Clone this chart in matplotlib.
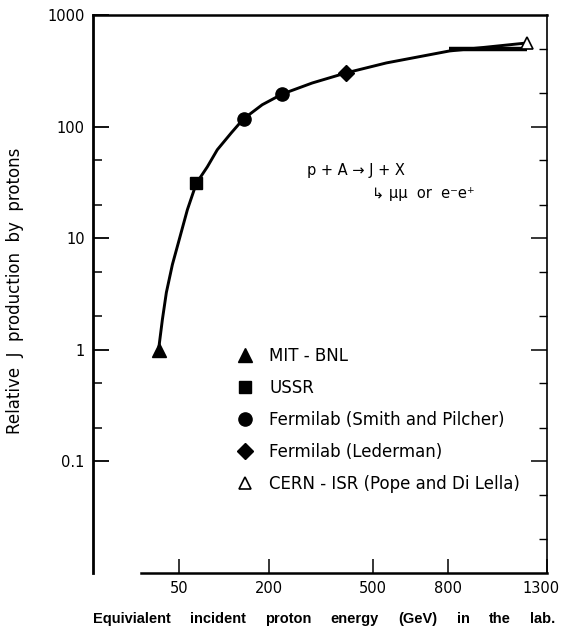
import numpy as np
import matplotlib
matplotlib.use("Agg")
import matplotlib.pyplot as plt
import matplotlib.transforms as mtransforms
from matplotlib.ticker import FixedLocator, FixedFormatter, NullFormatter

# ---------------- data ----------------
curve_energy = [30, 33.4, 37.1, 43.1, 49.5, 60.0, 71.4, 86.8, 102, 125.6, 147.7, 186,
                231.7, 309, 410, 548, 805, 1190]
curve_value = [1.0, 1.87, 3.26, 5.8, 9.1, 18.0, 31, 43.6, 62, 88, 117, 157,
               196, 246, 303, 372, 476, 562]

band_energy = [805, 1190]
band_value = [497, 497]

mit_energy, mit_value = [30], [1.0]
ussr_energy, ussr_value = [71], [31]
fnal_sp_energy, fnal_sp_value = [148, 232], [117, 196]
fnal_led_energy, fnal_led_value = [410], [303]
isr_energy, isr_value = [1190], [562]

series_labels = ["MIT - BNL", "USSR", "Fermilab (Smith and Pilcher)",
                 "Fermilab (Lederman)", "CERN - ISR (Pope and Di Lella)"]

x_ticks = [50, 200, 500, 800, 1300]
x_ticklabels = ["50", "200", "500", "800", "1300"]
y_ticks = [0.1, 1, 10, 100, 1000]
y_ticklabels = ["0.1", "1", "10", "100", "1000"]
y_minor_left = [0.2, 0.5, 2, 5, 20, 50]
y_major_right = [0.1, 1, 10, 100]
y_minor_right = [0.02, 0.05, 0.2, 0.5, 2, 5, 20, 50, 200, 500]

xlabel_words = ["Equivialent", "incident", "proton", "energy", "(GeV)", "in", "the", "lab."]
ylabel = "Relative  J  production  by  protons"
reaction_line1 = "p + A \u2192 J + X"
reaction_line2 = "\u21b3 \u03bc\u03bc  or  e\u207be\u207a"

# ---------------- figure ----------------
W, H = 564, 629
fig = plt.figure(figsize=(W / 100, H / 100), dpi=100)
ax_l, ax_r, ax_t, ax_b = 93, 547, 15, 573
ax = fig.add_axes([ax_l / W, 1 - ax_b / H, (ax_r - ax_l) / W, (ax_b - ax_t) / H])

ax.set_xscale("function", functions=(lambda v: np.sqrt(np.clip(v, 0, None)), lambda v: np.square(v)))
ax.set_yscale("log")
ax.set_xlim(0.1, 1300)
ax.set_ylim(0.01, 1000)

# curve and band
ax.plot(curve_energy, curve_value, color="black", lw=2.1, solid_capstyle="round",
        solid_joinstyle="round", zorder=3)
ax.plot(band_energy, band_value, color="black", lw=3.2, solid_capstyle="butt", zorder=3)

# data points
ax.plot(mit_energy, mit_value, ls="none", marker="^", ms=10, color="black", label=series_labels[0], zorder=4)
ax.plot(ussr_energy, ussr_value, ls="none", marker="s", ms=9, color="black", label=series_labels[1], zorder=4)
ax.plot(fnal_sp_energy, fnal_sp_value, ls="none", marker="o", ms=9.5, color="black", label=series_labels[2], zorder=4)
ax.plot(fnal_led_energy, fnal_led_value, ls="none", marker="D", ms=8.5, color="black", label=series_labels[3], zorder=4)
ax.plot(isr_energy, isr_value, ls="none", marker="^", ms=9, mfc="white", mec="black", mew=1.2,
        color="black", label=series_labels[4], zorder=4)

# x axis
ax.xaxis.set_major_locator(FixedLocator(x_ticks))
ax.xaxis.set_major_formatter(FixedFormatter(x_ticklabels))
ax.xaxis.set_minor_locator(FixedLocator([]))
ax.tick_params(axis="x", which="major", direction="in", length=10, width=1.1,
               labelsize=10.5, pad=6)

# y axis (left)
ax.yaxis.set_major_locator(FixedLocator(y_ticks))
ax.yaxis.set_major_formatter(FixedFormatter(y_ticklabels))
ax.yaxis.set_minor_locator(FixedLocator(y_minor_left))
ax.yaxis.set_minor_formatter(NullFormatter())
ax.tick_params(axis="y", which="major", direction="in", length=11.5, width=1.3,
               labelsize=10.5, pad=6, right=False)
ax.tick_params(axis="y", which="minor", direction="in", length=6.5, width=1.1, right=False)

# right side ticks via twin axis
ax2 = ax.twinx()
ax2.set_yscale("log")
ax2.set_ylim(0.01, 1000)
ax2.yaxis.set_major_locator(FixedLocator(y_major_right))
ax2.yaxis.set_minor_locator(FixedLocator(y_minor_right))
ax2.yaxis.set_major_formatter(NullFormatter())
ax2.yaxis.set_minor_formatter(NullFormatter())
ax2.tick_params(axis="y", which="major", direction="in", length=11.5, width=1.1)
ax2.tick_params(axis="y", which="minor", direction="in", length=6, width=1.0)
for s in ax2.spines.values():
    s.set_visible(False)

# spines
ax.spines["left"].set_linewidth(2.0)
ax.spines["top"].set_linewidth(1.8)
ax.spines["right"].set_linewidth(1.2)
ax.spines["bottom"].set_linewidth(1.8)
ax.spines["bottom"].set_bounds(17, 1300)

# legend
leg = ax.legend(loc="upper left", bbox_to_anchor=(0.317, 0.405), frameon=False,
                fontsize=12, handlelength=1.0, handletextpad=0.95, labelspacing=0.84,
                borderaxespad=0, borderpad=0, numpoints=1)

# reaction annotation
ax.text(0.471, 0.722, reaction_line1, transform=ax.transAxes, fontsize=10.5, va="center", ha="left")
ax.text(0.615, 0.681, reaction_line2, transform=ax.transAxes, fontsize=10.5, va="center", ha="left")

# y label
fig.text(15 / W, 1 - 291 / H, ylabel, rotation=90, fontsize=12, va="center", ha="center")

# x label, justified between two pixel positions
fig.canvas.draw()
renderer = fig.canvas.get_renderer()

# nudge the last x tick label inward so it stays on the canvas
last_lab = ax.get_xticklabels()[-1]
last_lab.set_transform(last_lab.get_transform() +
                       mtransforms.ScaledTranslation(-6 / 100, 0, fig.dpi_scale_trans))

x_start, x_end, base_y = 93, 555, 623
texts = [fig.text(0, 1 - base_y / H, w, fontsize=10.5, fontweight="bold",
                  family="Liberation Sans", va="baseline", ha="left") for w in xlabel_words]
widths = [t.get_window_extent(renderer).width for t in texts]
gap = (x_end - x_start - sum(widths)) / (len(texts) - 1)
cur = x_start
for t, w in zip(texts, widths):
    t.set_x(cur / W)
    cur += w + gap

fig.savefig("out.png", dpi=100)
